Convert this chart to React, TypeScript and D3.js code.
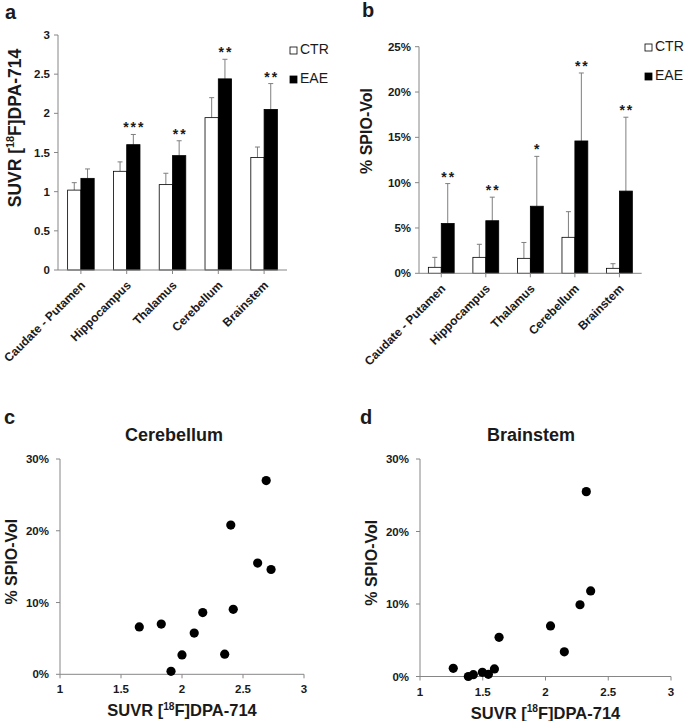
import React from "react";
import * as d3 from "d3";

const categories = ["Caudate - Putamen", "Hippocampus", "Thalamus", "Cerebellum", "Brainstem"];
const seriesNames = ["CTR", "EAE"];

// Panel a: SUVR [18F]DPA-714
const ctrSuvr = [1.02, 1.26, 1.09, 1.945, 1.435];
const ctrSuvrErr = [0.095, 0.12, 0.145, 0.255, 0.135];
const eaeSuvr = [1.17, 1.6, 1.46, 2.44, 2.05];
const eaeSuvrErr = [0.12, 0.13, 0.19, 0.25, 0.33];
const starsA = ["", "***", "**", "**", "**"];
const ticksA = [0, 0.5, 1, 1.5, 2, 2.5, 3];

// Panel b: % SPIO-Vol
const ctrSpio = [0.66, 1.76, 1.65, 3.97, 0.55];
const ctrSpioErr = [1.1, 1.44, 1.75, 2.83, 0.51];
const eaeSpio = [5.5, 5.8, 7.4, 14.6, 9.07];
const eaeSpioErr = [4.4, 2.6, 5.5, 7.5, 8.15];
const starsB = ["**", "**", "*", "**", "**"];
const ticksB = [0, 5, 10, 15, 20, 25];

// Panel c: Cerebellum scatter
const cerebSuvr = [1.65, 1.83, 1.91, 2.0, 2.1, 2.17, 2.35, 2.42, 2.4, 2.62, 2.73, 2.69];
const cerebSpio = [6.6, 7.0, 0.42, 2.7, 5.75, 8.6, 2.8, 9.05, 20.8, 15.5, 14.6, 27.0];
// Panel d: Brainstem scatter
const brainSuvr = [1.265, 1.385, 1.425, 1.497, 1.545, 1.593, 1.63, 2.04, 2.15, 2.275, 2.36, 2.325];
const brainSpio = [1.13, 0.0, 0.25, 0.58, 0.3, 1.04, 5.4, 6.97, 3.4, 9.9, 11.8, 25.5];
const scatterXTicks = [1, 1.5, 2, 2.5, 3];
const scatterYTicks = [0, 10, 20, 30];

const FONT = "'Liberation Sans', Arial, Helvetica, sans-serif";
const AXIS = "#868686";
const TEXT = "#1a1a1a";
const ERR = "#7f7f7f";

function SuvrLabel({ x, y, size, rotate, anchor = "middle" }: any) {
  const sup = size * 0.62;
  const up = size * 0.38;
  return (
    <text
      x={x}
      y={y}
      fontSize={size}
      fontWeight="bold"
      fontFamily={FONT}
      fill={TEXT}
      textAnchor={anchor}
      transform={rotate ? `rotate(${rotate},${x},${y})` : undefined}
    >
      <tspan>SUVR [</tspan>
      <tspan dy={-up} fontSize={sup}>18</tspan>
      <tspan dy={up}>F]DPA-714</tspan>
    </text>
  );
}

function BarPanel({ x0, x1, yTop, yBot, max, ticks, fmt, ctr, ctrErr, eae, eaeErr, stars, legendX, legendY, yTitle }: any) {
  const x = d3.scaleBand().domain(categories).range([x0, x1]).paddingInner(0).paddingOuter(0);
  const inner = d3.scaleBand().domain(seriesNames).range([0, x.bandwidth()]).paddingInner(0).paddingOuter(0.724);
  const y = d3.scaleLinear().domain([0, max]).range([yBot, yTop]);
  const series = [
    { name: "CTR", vals: ctr, errs: ctrErr, fill: "#ffffff" },
    { name: "EAE", vals: eae, errs: eaeErr, fill: "#000000" },
  ];
  const bw = inner.bandwidth();
  return (
    <g>
      {series.map((s) =>
        categories.map((c, i) => {
          const bx = (x(c) as number) + (inner(s.name) as number);
          const top = y(s.vals[i]);
          const et = y(s.vals[i] + s.errs[i]);
          const cx = bx + bw / 2;
          return (
            <g key={s.name + c}>
              <line x1={cx} x2={cx} y1={top} y2={et} stroke={ERR} strokeWidth={1} />
              <line x1={cx - 2.5} x2={cx + 2.5} y1={et} y2={et} stroke={ERR} strokeWidth={1} />
              <rect x={bx} y={top} width={bw} height={yBot - top} fill={s.fill} stroke="#000" strokeWidth={0.8} />
            </g>
          );
        })
      )}
      {categories.map((c, i) => {
        const bx = (x(c) as number) + (inner("EAE") as number) + bw / 2;
        const et = y(eae[i] + eaeErr[i]);
        return stars[i] ? (
          <text key={"s" + c} x={bx + 1} y={et - 2} fontSize={14} fontWeight="bold" fontFamily={FONT} fill={TEXT} textAnchor="middle" letterSpacing={2}>
            {stars[i]}
          </text>
        ) : null;
      })}
      <line x1={x0} x2={x0} y1={yTop} y2={yBot} stroke={AXIS} />
      <line x1={x0} x2={x1} y1={yBot} y2={yBot} stroke={AXIS} />
      {ticks.map((t: number) => (
        <g key={"yt" + t}>
          <line x1={x0 - 4} x2={x0} y1={y(t)} y2={y(t)} stroke={AXIS} />
          <text x={x0 - 8} y={y(t)} dy="0.35em" textAnchor="end" fontSize={11.5} fontWeight="bold" fontFamily={FONT} fill={TEXT}>
            {fmt(t)}
          </text>
        </g>
      ))}
      {categories.map((c) => {
        const cx = (x(c) as number) + x.bandwidth() / 2;
        return (
          <g key={"xt" + c}>
            <line x1={cx} x2={cx} y1={yBot} y2={yBot + 4} stroke={AXIS} />
            <text
              transform={`translate(${cx + 5},${yBot + 16}) rotate(-45)`}
              textAnchor="end"
              fontSize={12}
              fontWeight="bold"
              fontFamily={FONT}
              fill={TEXT}
            >
              {c}
            </text>
          </g>
        );
      })}
      {seriesNames.map((n, i) => (
        <g key={"lg" + n}>
          <rect x={legendX} y={legendY + i * 29 - 7} width={7} height={7} fill={n === "CTR" ? "#fff" : "#000"} stroke="#000" strokeWidth={0.8} />
          <text x={legendX + 10} y={legendY + i * 29} fontSize={14} fontFamily={FONT} fill={TEXT}>
            {n}
          </text>
        </g>
      ))}
      {yTitle}
    </g>
  );
}

function ScatterPanel({ x0, x1, yTop, yBot, xs, ys, title, titleX }: any) {
  const x = d3.scaleLinear().domain([1, 3]).range([x0, x1]);
  const y = d3.scaleLinear().domain([0, 30]).range([yBot, yTop]);
  return (
    <g>
      <text x={titleX} y={441} textAnchor="middle" fontSize={18} fontWeight="bold" fontFamily={FONT} fill={TEXT}>
        {title}
      </text>
      <line x1={x0} x2={x0} y1={yTop} y2={yBot} stroke={AXIS} />
      <line x1={x0} x2={x1} y1={yBot} y2={yBot} stroke={AXIS} />
      {scatterYTicks.map((t) => (
        <g key={"y" + t}>
          <line x1={x0 - 4} x2={x0} y1={y(t)} y2={y(t)} stroke={AXIS} />
          <text x={x0 - 11} y={y(t)} dy="0.35em" textAnchor="end" fontSize={11.5} fontWeight="bold" fontFamily={FONT} fill={TEXT}>
            {t + "%"}
          </text>
        </g>
      ))}
      {scatterXTicks.map((t) => (
        <g key={"x" + t}>
          <line x1={x(t)} x2={x(t)} y1={yBot} y2={yBot + 4} stroke={AXIS} />
          <text x={x(t)} y={yBot + 19} textAnchor="middle" fontSize={11.5} fontWeight="bold" fontFamily={FONT} fill={TEXT}>
            {String(t)}
          </text>
        </g>
      ))}
      {xs.map((v: number, i: number) => (
        <circle key={"p" + i} cx={x(v)} cy={y(ys[i])} r={4.6} fill="#000" />
      ))}
      <SuvrLabel x={(x0 + x1) / 2} y={yBot + 42} size={16.5} />
      <text
        x={x0 - 43}
        y={(yTop + yBot) / 2 - 5}
        transform={`rotate(-90,${x0 - 43},${(yTop + yBot) / 2 - 5})`}
        textAnchor="middle"
        fontSize={16}
        fontWeight="bold"
        fontFamily={FONT}
        fill={TEXT}
      >
        % SPIO-Vol
      </text>
    </g>
  );
}

export default function App() {
  const letter = (t: string, x: number, y: number) => (
    <text x={x} y={y} fontSize={20} fontWeight="bold" fontFamily={FONT} fill={TEXT}>
      {t}
    </text>
  );
  return (
    <svg width={685} height={721} style={{ position: "absolute", left: 0, top: 0, background: "#fff" }}>
      <rect x={0} y={0} width={685} height={721} fill="#fff" />
      {letter("a", 5, 19)}
      {letter("b", 362, 17)}
      {letter("c", 4, 424)}
      {letter("d", 360, 424)}
      <BarPanel
        x0={58}
        x1={287}
        yTop={35}
        yBot={270}
        max={3}
        ticks={ticksA}
        fmt={(t: number) => String(t)}
        ctr={ctrSuvr}
        ctrErr={ctrSuvrErr}
        eae={eaeSuvr}
        eaeErr={eaeSuvrErr}
        stars={starsA}
        legendX={290}
        legendY={54}
        yTitle={<SuvrLabel x={21} y={128} size={17.5} rotate={-90} />}
      />
      <BarPanel
        x0={419}
        x1={641.7}
        yTop={46.7}
        yBot={273.3}
        max={25}
        ticks={ticksB}
        fmt={(t: number) => t + "%"}
        ctr={ctrSpio}
        ctrErr={ctrSpioErr}
        eae={eaeSpio}
        eaeErr={eaeSpioErr}
        stars={starsB}
        legendX={645}
        legendY={51}
        yTitle={
          <text x={372} y={131} transform="rotate(-90,372,131)" textAnchor="middle" fontSize={16} fontWeight="bold" fontFamily={FONT} fill={TEXT}>
            % SPIO-Vol
          </text>
        }
      />
      <ScatterPanel x0={60} x1={304} yTop={459} yBot={674.3} xs={cerebSuvr} ys={cerebSpio} title="Cerebellum" titleX={174} />
      <ScatterPanel x0={420} x1={671} yTop={459} yBot={676.5} xs={brainSuvr} ys={brainSpio} title="Brainstem" titleX={531} />
    </svg>
  );
}
